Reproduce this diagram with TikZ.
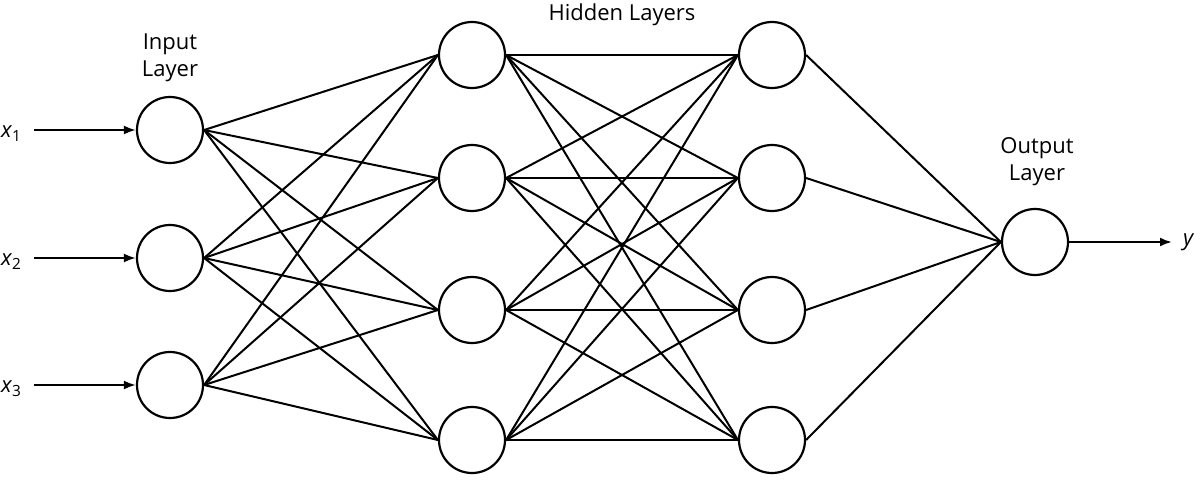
\documentclass[tikz,border=0pt]{standalone}
\usepackage{fontspec}
\setmainfont{Open Sans}
\usetikzlibrary{arrows.meta}
\begin{document}
\begin{tikzpicture}[x=1pt,y=-1pt,line width=2.2pt,
    neuron/.style={circle,draw,minimum size=66pt,inner sep=0pt},
    lbl/.style={font=\fontsize{22}{27}\selectfont,align=center},
    link/.style={line width=2pt}]
    \useasboundingbox (0,0) rectangle (1200,495);

    % input layer
    \node[neuron] (i1) at (170,130) {};
    \node[neuron] (i2) at (170,258) {};
    \node[neuron] (i3) at (170,385) {};
    \node[lbl] at (170,58) {Input\\Layer};

    % hidden layers
    \foreach \n/\y in {1/55,2/178,3/310,4/440} {
        \node[neuron] (a\n) at (472,\y) {};
        \node[neuron] (b\n) at (772,\y) {};
    }
    \node[lbl] at (622,15) {Hidden Layers};

    % output layer
    \node[neuron] (o) at (1035,242) {};
    \node[lbl] at (1037,162) {Output\\Layer};

    % inputs
    \foreach \n/\y in {1/130,2/258,3/385} {
        \coordinate (s\n) at (34,\y);
        \node[lbl,anchor=west,inner sep=0pt] (x\n) at (0,\y+4) {\textit{x}\textsubscript{\n}};
        \draw[-{Latex[length=12pt,width=9pt]}] (s\n) -- (i\n);
    }
    \coordinate (e) at (1172,242);
    \node[lbl,anchor=west,inner sep=0pt] (y) at (1182,242) {\textit{y}};
    \draw[-{Latex[length=12pt,width=9pt]}] (o) -- (e);

    % connections
    \foreach \i in {1,2,3}
        \foreach \j in {1,...,4}
            \draw[link] (i\i.east) -- (a\j.west);
    \foreach \i in {1,...,4}
        \foreach \j in {1,...,4}
            \draw[link] (a\i.east) -- (b\j.west);
    \foreach \i in {1,...,4}
        \draw[link] (b\i.east) -- (o.west);
\end{tikzpicture}
\end{document}
